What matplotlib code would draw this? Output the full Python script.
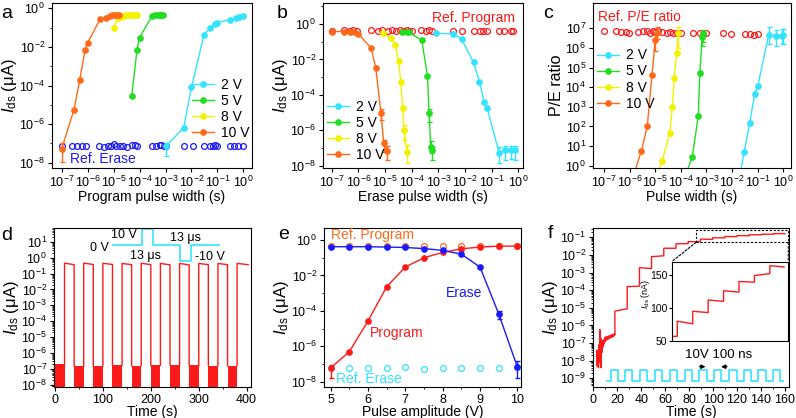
import numpy as np
import matplotlib
matplotlib.use('Agg')
import matplotlib.pyplot as plt
from matplotlib.ticker import LogLocator, NullFormatter, FixedLocator, NullLocator
from matplotlib.patches import Rectangle, ConnectionPatch

plt.rcParams['font.family'] = ['Liberation Sans', 'DejaVu Sans']
plt.rcParams['mathtext.fontset'] = 'custom'
plt.rcParams['mathtext.rm'] = 'Liberation Sans'
plt.rcParams['mathtext.it'] = 'Liberation Sans:italic'
plt.rcParams['mathtext.bf'] = 'Liberation Sans:bold'
plt.rcParams['font.size'] = 10
plt.rcParams['axes.linewidth'] = 0.8
plt.rcParams['xtick.major.size'] = 3
plt.rcParams['ytick.major.size'] = 3
plt.rcParams['xtick.minor.size'] = 1.5
plt.rcParams['ytick.minor.size'] = 1.5
plt.rcParams['xtick.major.width'] = 0.8
plt.rcParams['ytick.major.width'] = 0.8
plt.rcParams['xtick.major.pad'] = 2
plt.rcParams['ytick.major.pad'] = 2
plt.rcParams['xtick.labelsize'] = 9
plt.rcParams['ytick.labelsize'] = 9
plt.rcParams['axes.labelsize'] = 10

C2 = '#33E3FF'
C5 = '#22DD22'
C8 = '#F2F200'
C10 = '#FF6A1A'
RED = '#FF1A1A'
BLUE = '#1A1AFF'

# ---------------- Panel a data ----------------
a_x_2 = [1e-3, 5e-3, 1e-2, 3e-2, 5e-2, 8e-2, 1e-1, 3e-1, 5e-1, 7e-1, 1.0]
a_y_2 = [7e-8, 6.5e-7, 8e-5, 4e-2, 9e-2, 0.16, 0.18, 0.26, 0.31, 0.36, 0.4]
a_x_5 = [5e-5, 8e-5, 1e-4, 3e-4, 4e-4, 5e-4, 6e-4, 7e-4, 8e-4]
a_y_5 = [2.8e-5, 7e-3, 3e-2, 0.39, 0.44, 0.45, 0.45, 0.45, 0.45]
a_x_8 = [1e-5, 1.5e-5, 2e-5, 2.5e-5, 3e-5, 4e-5, 5e-5, 6e-5, 7e-5, 8e-5]
a_y_8 = [0.1, 0.3, 0.36, 0.4, 0.42, 0.43, 0.44, 0.44, 0.44, 0.44]
a_x_10 = [1e-7, 3e-7, 5e-7, 8e-7, 1e-6, 3e-6, 5e-6, 7e-6, 9e-6, 1.1e-5, 1.3e-5, 1.6e-5]
a_y_10 = [5e-8, 5.7e-6, 2e-4, 6.8e-3, 1.6e-2, 0.27, 0.32, 0.4, 0.42, 0.42, 0.42, 0.42]
a_err_2 = {0: (2.2e-8, 1.1e-7)}
a_err_10 = {0: (1.1e-8, 1.0e-7)}
a_ref_x = [1e-7, 2.6e-7, 4e-7, 6e-7, 9e-7, 2.8e-6, 4.4e-6, 6e-6, 8e-6, 1e-5, 1.2e-5, 1.7e-5,
           2.3e-5, 3.4e-5, 5e-5, 6.5e-5, 8e-5, 3e-4, 4.5e-4, 6e-4, 7e-4, 9e-4, 1e-3, 5e-3,
           1.1e-2, 3e-2, 5e-2, 7e-2, 8e-2, 1e-1, 3e-1, 4.5e-1, 6e-1, 1.0]
a_ref_y = [7e-8, 7e-8, 7e-8, 7.5e-8, 7.5e-8, 7e-8, 6.5e-8, 7.5e-8, 7e-8, 9e-8, 7e-8, 7e-8,
           7e-8, 6.5e-8, 8e-8, 8e-8, 7.5e-8, 7.5e-8, 7.5e-8, 8e-8, 8e-8, 7.5e-8, 7e-8, 7e-8,
           7.5e-8, 7e-8, 7e-8, 7.5e-8, 8e-8, 7e-8, 7e-8, 7e-8, 7e-8, 7e-8]

# ---------------- Panel b data ----------------
b_x_2 = [8e-4, 3.7e-3, 7.5e-3, 2.1e-2, 3.5e-2, 5.2e-2, 6.8e-2, 0.19, 0.32, 0.55, 0.75]
b_y_2 = [0.3, 0.28, 0.14, 6.8e-3, 5.6e-4, 4e-5, 1.8e-5, 5.5e-8, 8e-8, 8e-8, 8e-8]
b_x_5 = [4.2e-5, 6.5e-5, 8e-5, 2.4e-4, 3.9e-4, 4.5e-4, 5.2e-4, 6e-4]
b_y_5 = [0.38, 0.35, 0.34, 0.12, 1.2e-3, 9e-6, 1.2e-7, 8e-8]
b_x_8 = [8.7e-6, 1.7e-5, 2.4e-5, 3.2e-5, 3.9e-5, 4.6e-5, 5.3e-5, 6.5e-5]
b_y_8 = [0.3, 0.16, 0.068, 8e-3, 5.6e-4, 1.8e-5, 1e-6, 6e-8]
b_x_10 = [1e-7, 3e-7, 5e-7, 7e-7, 1e-6, 3e-6, 4.5e-6, 7e-6, 9e-6, 1.2e-5]
b_y_10 = [0.38, 0.38, 0.36, 0.34, 0.28, 0.044, 3.2e-3, 1e-5, 1.8e-7, 7e-8]
b_err_2 = {7: (1.5e-8, 1.2e-7), 8: (2e-8, 1.3e-7), 9: (2.5e-8, 1.3e-7), 10: (2e-8, 1.3e-7)}
b_err_5 = {5: (3e-6, 1.5e-5), 6: (5e-8, 2.5e-7), 7: (2e-8, 1.2e-7)}
b_err_8 = {6: (3e-7, 2e-6), 7: (1.5e-8, 1.5e-7)}
b_err_10 = {7: (4e-6, 1.5e-5), 8: (6e-8, 3e-7), 9: (2e-8, 1.3e-7)}
b_ref_x = [1e-7, 2.9e-7, 4.9e-7, 6.5e-7, 8.7e-7, 3e-6, 5.6e-6, 7.5e-6, 1.26e-5, 1.8e-5, 2.5e-5,
           3.7e-5, 4.9e-5, 6.5e-5, 7.9e-5, 1e-4, 2.2e-4, 3.4e-4, 4.5e-4, 5.6e-4, 3.6e-3, 7.5e-3,
           2.2e-2, 3.7e-2, 4.9e-2, 6.5e-2, 0.19, 0.3, 0.53, 0.65]
b_ref_y = [0.42, 0.44, 0.43, 0.44, 0.43, 0.44, 0.42, 0.44, 0.43, 0.44, 0.43,
           0.44, 0.43, 0.44, 0.43, 0.42, 0.44, 0.43, 0.44, 0.42, 0.43, 0.42,
           0.41, 0.42, 0.41, 0.42, 0.41, 0.41, 0.4, 0.41]

# ---------------- Panel c data ----------------
c_x_2 = [2e-2, 2.95e-2, 4.9e-2, 7.6e-2, 1e-1, 0.27, 0.5, 0.85, 1.0]
c_y_2 = [0.3, 5, 155, 4.3e3, 1.1e4, 4.8e6, 4e6, 4.3e6, 4.5e6]
c_x_5 = [1.5e-4, 2.8e-4, 4.8e-4, 5.5e-4, 6.8e-4, 7.5e-4]
c_y_5 = [0.3, 2.9, 350, 5.5e4, 3.5e6, 5e6]
c_x_8 = [1.1e-5, 1.9e-5, 3.7e-5, 4.7e-5, 5.5e-5, 6.8e-5, 8e-5]
c_y_8 = [0.3, 1.8, 48, 1000, 2.8e4, 5.3e5, 6e6]
c_x_10 = [1.4e-6, 2.9e-6, 4.9e-6, 7.4e-6, 1e-5, 1.2e-5]
c_y_10 = [0.3, 5.8, 105, 4e4, 2.5e6, 6e6]
c_err_2 = {5: (1.5e6, 1.2e7), 6: (1.2e6, 8e6), 7: (1.5e6, 9e6), 8: (1.5e6, 9e6)}
c_err_5 = {4: (1.2e6, 6e6), 5: (2e6, 8e6)}
c_err_8 = {6: (1e6, 1.2e7)}
c_err_10 = {4: (7e5, 6e6), 5: (3e6, 1.2e7)}
c_ref_x = [1e-7, 3e-7, 4.5e-7, 7e-7, 9.8e-7, 2.2e-6, 3.4e-6, 4.9e-6, 6.2e-6, 7.9e-6, 9.8e-6,
           1.3e-5, 1.8e-5, 2.8e-5, 3.7e-5, 4.8e-5, 6.8e-5, 9.8e-5, 3e-4, 5.5e-4, 7.4e-4,
           1e-3, 4.5e-3, 9.3e-3, 3.1e-2, 4.9e-2, 6.9e-2, 1e-1]
c_ref_y = [7e6, 7e6, 6.5e6, 6.5e6, 6e6, 6.5e6, 7e6, 7.5e6, 6e6, 7e6, 6.5e6,
           7e6, 6.5e6, 6e6, 6.5e6, 6e6, 5.5e6, 6e6, 5.5e6, 5.5e6, 5e6,
           5.5e6, 5.5e6, 5e6, 5e6, 5e6, 4.5e6, 5e6]

# ---------------- Panel d data ----------------
d_high_on = [20, 60, 100, 140, 180, 220, 260, 300, 340, 380]
d_high_off = [40, 80, 120, 160, 200, 240, 280, 320, 360, 403]
d_high_start = [0.45, 0.45, 0.44, 0.43, 0.44, 0.43, 0.43, 0.43, 0.43, 0.43]
d_high_end = [0.36, 0.37, 0.37, 0.36, 0.36, 0.35, 0.35, 0.36, 0.36, 0.36]
d_low_on = [0, 40, 80, 120, 160, 200, 240, 280, 320, 360]
d_low_off = [20, 60, 100, 140, 180, 220, 260, 300, 340, 380]
d_low_level = [2.1e-7, 1.5e-7, 1.6e-7, 1.7e-7, 1.6e-7, 1.7e-7, 1.8e-7, 1.7e-7, 1.6e-7, 1.6e-7]
d_sch_x = [0.302, 0.446, 0.446, 0.502, 0.502, 0.641, 0.641, 0.697, 0.697, 0.836]
d_sch_y = [0.891, 0.891, 0.992, 0.992, 0.891, 0.891, 0.790, 0.790, 0.891, 0.891]

# ---------------- Panel e data ----------------
e_x = [5, 5.5, 6, 6.5, 7, 7.5, 8, 8.5, 9, 9.5, 10]
e_prog = [6e-8, 5e-7, 2.7e-5, 2.3e-3, 3e-2, 0.1, 0.2, 0.32, 0.4, 0.45, 0.46]
e_erase = [0.42, 0.42, 0.42, 0.4, 0.38, 0.33, 0.26, 0.16, 0.03, 7e-5, 7e-8]
e_ref_prog = [0.44, 0.44, 0.44, 0.44, 0.46, 0.47, 0.47, 0.46, 0.44, 0.46, 0.47]
e_ref_erase = [6e-8, 5.8e-8, 5.8e-8, 6.3e-8, 7e-8, 5e-8, 6.3e-8, 6.3e-8, 6.3e-8, 6.3e-8, 6.5e-8]
e_err_prog = {0: (1.6e-8, 9e-8)}
e_err_erase = {9: (3.5e-5, 1e-4), 10: (1.6e-8, 1.5e-7)}

# ---------------- Panel f data ----------------
f_noise_t = [2.8, 3.2, 3.6, 4.0, 4.3, 4.7, 5.0, 5.4, 5.8, 6.1, 6.5, 6.9, 7.2, 7.6, 8.0, 8.5,
             9.0, 9.5, 10, 10.5, 11, 11.5, 12, 12.5, 13, 13.5, 14, 14.5, 15, 15.5, 16,
             16.5, 17, 17.5, 18]
f_noise_y = [5e-9, 4e-8, 6e-9, 3e-8, 4e-9, 8e-8, 1e-8, 6e-7, 8e-9, 2e-7, 4e-9, 1.5e-7,
             3e-8, 1.2e-7, 6e-8, 1.5e-7, 9e-8, 2e-7, 1.2e-7, 2.3e-7, 1.5e-7, 2.2e-7,
             1.6e-7, 2.5e-7, 1.8e-7, 2.6e-7, 2e-7, 2.8e-7, 2.1e-7, 3e-7, 2.2e-7, 3e-7,
             2.5e-7, 3.5e-7, 3e-7]
f_step_t = [18, 28.3, 38.5, 48.6, 58.8, 69, 79.2, 89.4, 99.6, 109.8, 120, 130.2, 140.4, 150.6]
f_step_end = 160
f_lvl_start_nA = [6.5e-3, 0.16, 1.9, 8.0, 24, 43, 57, 80, 95, 112, 126, 140, 149, 164]
f_lvl_end_nA = [9e-3, 0.17, 1.7, 9.0, 24, 44, 57, 76, 93, 110, 124, 139, 152, 162]
f_pulse_on = [14.5, 26.5, 39, 51.5, 64, 76.6, 88.5, 100.8, 113.6, 125.9, 137.8, 150.3]
f_pulse_w = 6.0
f_pulse_lo = 7.3e-10
f_pulse_hi = 3e-9
f_pulse_start, f_pulse_end = 11.2, 158.6


def fig_rect(x0, x1, y0, y1):
    W, H = 796.0, 418.0
    return [x0 / W, 1 - y1 / H, (x1 - x0) / W, (y1 - y0) / H]


fig = plt.figure(figsize=(7.96, 4.18), dpi=100)

ax_a = fig.add_axes(fig_rect(52, 252, 3, 168))
ax_b = fig.add_axes(fig_rect(323, 523, 3, 168))
ax_c = fig.add_axes(fig_rect(593, 791, 3, 168))
ax_d = fig.add_axes(fig_rect(54, 251, 228, 387))
ax_e = fig.add_axes(fig_rect(324, 521, 228, 387))
ax_f = fig.add_axes(fig_rect(593, 789, 228, 387))

IDS = r'$I_{\rm ds}$ (μA)'
YL = 12
TXT = 10
LEG = dict(frameon=False, handlelength=1.6, handletextpad=0.5, labelspacing=0.15,
           borderpad=0, borderaxespad=0, fontsize=TXT, loc='upper left')


def series(ax, x, y, color, label=None, err=None, ms=3.8):
    ax.plot(x, y, '-o', color=color, ms=ms, lw=1.0, mec=color, mfc=color, label=label,
            zorder=3)
    if err:
        for i, (lo, hi) in err.items():
            ax.errorbar([x[i]], [y[i]], yerr=[[y[i] - lo], [hi - y[i]]], fmt='none',
                        ecolor=color, elinewidth=1.0, capsize=1.8, capthick=1.0, zorder=3)


def open_circ(ax, x, y, color):
    ax.plot(x, y, 'o', ls='none', ms=4.2, mfc='none', mec=color, mew=0.9, zorder=2)


def log_ticks_x(ax):
    ax.set_xscale('log')
    ax.xaxis.set_major_locator(FixedLocator([10.0 ** k for k in range(-7, 1)]))
    ax.xaxis.set_minor_locator(NullLocator())


for ax in [ax_a, ax_b, ax_c, ax_d, ax_e, ax_f]:
    ax.tick_params(which='both', direction='out')

# ---- a ----
ax = ax_a
series(ax, a_x_2, a_y_2, C2, '2 V', a_err_2)
series(ax, a_x_5, a_y_5, C5, '5 V')
series(ax, a_x_8, a_y_8, C8, '8 V')
series(ax, a_x_10, a_y_10, C10, '10 V', a_err_10)
open_circ(ax, a_ref_x, a_ref_y, BLUE)
log_ticks_x(ax)
ax.set_yscale('log')
ax.set_xlim(10 ** -7.37, 10 ** 0.33)
ax.set_ylim(10 ** -8.27, 10 ** 0.27)
ax.yaxis.set_major_locator(FixedLocator([10.0 ** k for k in range(-8, 1, 2)]))
ax.yaxis.set_minor_locator(FixedLocator([10.0 ** k for k in range(-7, 1, 2)]))
ax.yaxis.set_minor_formatter(NullFormatter())
ax.set_xlabel('Program pulse width (s)', labelpad=0)
ax.set_ylabel(IDS, labelpad=0, fontsize=YL)
ax.legend(bbox_to_anchor=(0.70, 0.545), **LEG)
ax.text(0.09, 0.055, 'Ref. Erase', color=BLUE, transform=ax.transAxes, ha='left',
        va='center', fontsize=TXT)

# ---- b ----
ax = ax_b
series(ax, b_x_2, b_y_2, C2, '2 V', b_err_2)
series(ax, b_x_5, b_y_5, C5, '5 V', b_err_5)
series(ax, b_x_8, b_y_8, C8, '8 V', b_err_8)
series(ax, b_x_10, b_y_10, C10, '10 V', b_err_10)
open_circ(ax, b_ref_x, b_ref_y, RED)
log_ticks_x(ax)
ax.set_yscale('log')
ax.set_xlim(10 ** -7.33, 10 ** 0.18)
ax.set_ylim(10 ** -8.13, 10 ** 1.19)
ax.yaxis.set_major_locator(FixedLocator([10.0 ** k for k in range(-8, 1, 2)]))
ax.yaxis.set_minor_locator(FixedLocator([10.0 ** k for k in range(-7, 2, 2)]))
ax.yaxis.set_minor_formatter(NullFormatter())
ax.set_xlabel('Erase pulse width (s)', labelpad=0)
ax.set_ylabel(IDS, labelpad=0, fontsize=YL)
ax.legend(bbox_to_anchor=(0.02, 0.415), **LEG)
ax.text(0.545, 0.91, 'Ref. Program', color=RED, transform=ax.transAxes, ha='left',
        va='center', fontsize=TXT)

# ---- c ----
ax = ax_c
series(ax, c_x_2, c_y_2, C2, '2 V', c_err_2)
series(ax, c_x_5, c_y_5, C5, '5 V', c_err_5)
series(ax, c_x_8, c_y_8, C8, '8 V', c_err_8)
series(ax, c_x_10, c_y_10, C10, '10 V', c_err_10)
open_circ(ax, c_ref_x, c_ref_y, RED)
log_ticks_x(ax)
ax.set_yscale('log')
ax.set_xlim(10 ** -7.43, 10 ** 0.3)
ax.set_ylim(10 ** -0.12, 10 ** 8.29)
ax.yaxis.set_major_locator(FixedLocator([10.0 ** k for k in range(0, 8)]))
ax.yaxis.set_minor_locator(NullLocator())
ax.set_xlabel('Pulse width (s)', labelpad=0)
ax.set_ylabel('P/E ratio', labelpad=1, fontsize=11.5)
ax.legend(bbox_to_anchor=(0.02, 0.725), **LEG)
ax.text(0.025, 0.915, 'Ref. P/E ratio', color=RED, transform=ax.transAxes, ha='left',
        va='center', fontsize=TXT)

# ---- d ----
ax = ax_d
ax.set_yscale('log')
ymin_d = 10 ** -8.13
for t0, t1, lv in zip(d_low_on, d_low_off, d_low_level):
    ax.fill_between([t0, t1], [ymin_d, ymin_d], [lv, lv], color=RED, lw=0, zorder=2)
for i, (t0, t1, v0, v1) in enumerate(zip(d_high_on, d_high_off, d_high_start, d_high_end)):
    lo0 = d_low_level[i]
    xs = [t0, t0, t1]
    ys = [lo0, v0, v1]
    if i + 1 < len(d_low_level):
        xs.append(t1)
        ys.append(d_low_level[i + 1])
    ax.plot(xs, ys, color=RED, lw=1.0, zorder=3)
ax.plot(d_sch_x, d_sch_y, color=C2, lw=1.2, transform=ax.transAxes, clip_on=False)
SCH = 9
ax.text(0.356, 0.958, '10 V', transform=ax.transAxes, ha='center', va='center', fontsize=SCH)
ax.text(0.23, 0.874, '0 V', transform=ax.transAxes, ha='center', va='center', fontsize=SCH)
ax.text(0.666, 0.94, '13 μs', transform=ax.transAxes, ha='center', va='center', fontsize=SCH)
ax.text(0.466, 0.824, '13 μs', transform=ax.transAxes, ha='center', va='center', fontsize=SCH)
ax.text(0.79, 0.818, '-10 V', transform=ax.transAxes, ha='center', va='center', fontsize=SCH)
ax.set_xlim(-2, 409)
ax.set_ylim(ymin_d, 10 ** 1.86)
ax.yaxis.set_major_locator(FixedLocator([10.0 ** k for k in range(-8, 2)]))
ax.yaxis.set_minor_locator(LogLocator(base=10, subs=np.arange(2, 10), numticks=100))
ax.yaxis.set_minor_formatter(NullFormatter())
ax.set_xticks([0, 100, 200, 300, 400])
ax.xaxis.set_minor_locator(FixedLocator([50, 150, 250, 350]))
ax.set_xlabel('Time (s)', labelpad=-0.5)
ax.set_ylabel(IDS, labelpad=0, fontsize=YL)

# ---- e ----
ax = ax_e
series(ax, e_x, e_prog, RED, None, e_err_prog)
series(ax, e_x, e_erase, BLUE, None, e_err_erase)
open_circ(ax, e_x, e_ref_prog, C10)
open_circ(ax, e_x, e_ref_erase, C2)
ax.set_yscale('log')
ax.set_xlim(4.82, 10.1)
ax.set_ylim(10 ** -8.3, 10 ** 0.68)
ax.yaxis.set_major_locator(FixedLocator([10.0 ** k for k in range(-8, 1, 2)]))
ax.yaxis.set_minor_locator(FixedLocator([10.0 ** k for k in range(-7, 1, 2)]))
ax.yaxis.set_minor_formatter(NullFormatter())
ax.set_xticks([5, 6, 7, 8, 9, 10])
ax.xaxis.set_minor_locator(FixedLocator([5.5, 6.5, 7.5, 8.5, 9.5]))
ax.set_xlabel('Pulse amplitude (V)', labelpad=-0.5)
ax.set_ylabel(IDS, labelpad=0, fontsize=YL)
ax.text(0.037, 0.954, 'Ref. Program', color=C10, transform=ax.transAxes, ha='left',
        va='center', fontsize=TXT)
ax.text(0.71, 0.593, 'Erase', color=BLUE, transform=ax.transAxes, ha='center',
        va='center', fontsize=TXT)
ax.text(0.368, 0.34, 'Program', color=RED, transform=ax.transAxes, ha='center',
        va='center', fontsize=TXT)
ax.text(0.063, 0.052, 'Ref. Erase', color=C2, transform=ax.transAxes, ha='left',
        va='center', fontsize=TXT)

# ---- f ----
ax = ax_f
ax.set_yscale('log')
fx = list(f_noise_t)
fy = list(f_noise_y)
for i, t0 in enumerate(f_step_t):
    t1 = f_step_t[i + 1] if i + 1 < len(f_step_t) else f_step_end
    fx += [t0, t1]
    fy += [f_lvl_start_nA[i] * 1e-3, f_lvl_end_nA[i] * 1e-3]
ax.plot(fx, fy, color=RED, lw=1.0, zorder=3)
px = [f_pulse_start]
py = [f_pulse_lo]
for t in f_pulse_on:
    px += [t, t, t + f_pulse_w, t + f_pulse_w]
    py += [f_pulse_lo, f_pulse_hi, f_pulse_hi, f_pulse_lo]
px.append(f_pulse_end)
py.append(f_pulse_lo)
ax.plot(px, py, color=C2, lw=1.2, zorder=3)
ax.text(105, 2.0e-8, '10V 100 ns', ha='center', va='center', fontsize=9.5)
ax.annotate('', xy=(96, 4.6e-9), xytext=(86.3, 4.6e-9),
            arrowprops=dict(arrowstyle='-|>', color='black', lw=0.9, mutation_scale=6))
ax.annotate('', xy=(104.3, 4.6e-9), xytext=(114, 4.6e-9),
            arrowprops=dict(arrowstyle='-|>', color='black', lw=0.9, mutation_scale=6))
ax.set_xlim(-0.3, 163.4)
ax.set_ylim(10 ** -9.49, 10 ** -0.47)
ax.yaxis.set_major_locator(FixedLocator([10.0 ** k for k in range(-9, 0)]))
ax.yaxis.set_minor_locator(LogLocator(base=10, subs=np.arange(2, 10), numticks=100))
ax.yaxis.set_minor_formatter(NullFormatter())
ax.set_xticks(list(range(0, 161, 20)))
ax.xaxis.set_minor_locator(FixedLocator(list(range(10, 161, 20))))
ax.set_xlabel('Time (s)', labelpad=-0.5)
ax.set_ylabel(IDS, labelpad=0, fontsize=YL)

rx0, rx1, ry0, ry1 = 85.7, 162.8, 0.052, 0.26
ax.add_patch(Rectangle((rx0, ry0), rx1 - rx0, ry1 - ry0, fill=False, ls=(0, (2, 1.5)),
                       lw=0.8, ec='black', zorder=4))

ax_in = fig.add_axes(fig_rect(671.7, 788.3, 261.7, 341))
ix = []
iy = []
ix.append(rx0)
iy.append(f_lvl_start_nA[6])
for i in range(7, len(f_step_t)):
    t0 = f_step_t[i]
    t1 = f_step_t[i + 1] if i + 1 < len(f_step_t) else f_step_end
    ix += [t0, t0, t1]
    iy += [f_lvl_end_nA[i - 1], f_lvl_start_nA[i], f_lvl_end_nA[i]]
ax_in.plot(ix, iy, color=RED, lw=1.0)
ax_in.set_xlim(rx0, rx1)
ax_in.set_ylim(51, 170)
ax_in.set_yticks([50, 100, 150])
ax_in.set_xticks([])
ax_in.tick_params(axis='y', labelsize=7.5, direction='out', length=2, pad=1)
ax_in.set_ylabel(r'$I_{\rm ds}$ (nA)', fontsize=6.5)
ax_in.yaxis.set_label_coords(-0.165, 0.6)
for con in [((rx0, ry0), (0, 1)), ((rx1, ry0), (1, 1))]:
    cp = ConnectionPatch(xyA=con[0], coordsA=ax.transData, xyB=con[1],
                         coordsB=ax_in.transAxes, ls=(0, (2, 1.5)), lw=0.8, color='black')
    fig.add_artist(cp)

# panel letters
for lab, (x, y) in zip('abcdef', [(1, 18), (277, 18), (543, 18), (1, 240), (278, 239),
                                  (548, 238)]):
    fig.text(x / 796, 1 - y / 418, lab, fontsize=14, ha='left', va='baseline')

fig.savefig('out.png', dpi=100)
